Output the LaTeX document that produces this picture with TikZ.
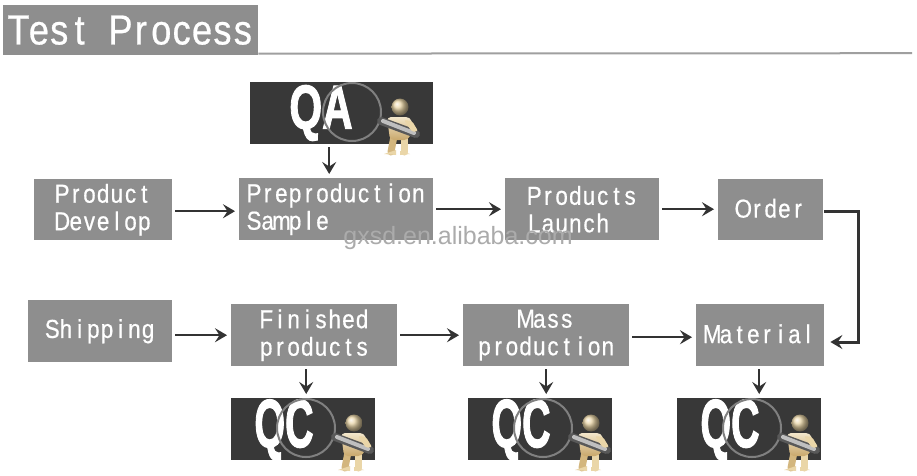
\documentclass[tikz,border=0pt]{standalone}
\usepackage{fontspec}
\setmainfont{Liberation Sans}
\newfontfamily\boxfont[FakeStretch=0.86,FakeBold=0.6]{Liberation Sans}
\newfontfamily\badgefont[FakeBold=2]{Liberation Sans Bold}
\usetikzlibrary{arrows.meta}
\definecolor{boxgray}{HTML}{8E8E8E}
\definecolor{arrowdark}{HTML}{333333}
\definecolor{badgedark}{HTML}{383838}
\definecolor{tan}{HTML}{EAD6A8}
\definecolor{tandark}{HTML}{C9A86C}
\makeatletter
\newcommand\monocell[2][13.7pt]{\@tfor\mc@char:=#2\do{\makebox[#1][c]{\mc@char}}}
\makeatother
\tikzset{
  stepbox/.style={fill=boxgray,text=white,inner sep=0pt,font=\boxfont\fontsize{26}{27.5}\selectfont},
  badgebox/.style={fill=badgedark,inner sep=0pt},
  flow/.style={draw=arrowdark,line width=2.2pt,-{Stealth[length=12pt,width=14pt,inset=4.5pt]},shorten >=4pt,shorten <=3pt},
  qatext/.style={text=white,inner sep=0pt,font=\badgefont\fontsize{62}{62}\selectfont,xscale=.68},
  qctext/.style={text=white,inner sep=0pt,font=\badgefont\fontsize{68}{68}\selectfont,xscale=.58},
  pics/inspector/.style={code={
    \draw[line width=7pt,tandark!70!tan,line cap=round] (42,24) -- (39,40);
    \draw[line width=7pt,tan,line cap=round] (52,24) -- (52,40);
    \fill[tan] (32,42) -- (44,38) -- (44,43) -- cycle;
    \fill[tan] (48,39) -- (58,42) -- (48,43) -- cycle;
    \shade[top color=tan!60!white,bottom color=tandark,rounded corners=4pt] (35,5) -- (58,5) -- (62,16) -- (56,28) -- (38,28) -- cycle;
    \shade[ball color=tan] (48,-5) circle (8.5);
    \draw[line width=2pt,black!50!white] (0,0) circle (29);
    \draw[line width=8pt,black!65,line cap=round] (29,9) -- (64,22);
    \draw[line width=4pt,black!25,line cap=round] (31,9) -- (62,21);
    \fill[tan,rounded corners=2pt] (52,8) -- (60,9) -- (66,19) -- (60,20) -- cycle;
  }}
}
\begin{document}
\begin{tikzpicture}[x=1pt,y=-1pt]
\useasboundingbox (0,0) rectangle (917,475);
\fill[white] (0,0) rectangle (917,475);

% title
\coordinate (ruleend) at (912,53.2);
\node[fill=boxgray,text=white,inner sep=0pt,minimum width=255pt,minimum height=50pt,anchor=north west,
      font=\boxfont\fontsize{42}{42}\selectfont] (title) at (3,5) {\monocell[20.4pt]{Test~Process}};
\draw[boxgray!85!white,line width=2pt] ([yshift=1.8pt]title.south east) -- (ruleend);

% process boxes
\node[stepbox,minimum width=138pt,minimum height=61pt,anchor=north west,align=center] (develop) at (34,179) {\monocell{Product}\\\monocell{Develop}};
\node[stepbox,minimum width=194pt,minimum height=62pt,anchor=north west,align=left] (pre) at (239,178) {\monocell{Preproduction}\\\monocell{Sample}};
\node[stepbox,minimum width=154pt,minimum height=62pt,anchor=north west,align=left] (launch) at (505,178) {\monocell{Products}\\\monocell{Launch}};
\node[stepbox,minimum width=105pt,minimum height=61pt,anchor=north west] (order) at (718,179) {\raisebox{3pt}{\monocell{Order}}};
\node[stepbox,minimum width=144pt,minimum height=62pt,anchor=north west] (ship) at (28,300) {\monocell{Shipping}};
\node[stepbox,minimum width=166pt,minimum height=62pt,anchor=north west,align=center] (finished) at (231,304) {\monocell{Finished}\\\monocell{products}};
\node[stepbox,minimum width=166pt,minimum height=62pt,anchor=north west,align=center] (mass) at (463,304) {\monocell{Mass}\\\monocell{production}};
\node[stepbox,minimum width=128pt,minimum height=62pt,anchor=north west] (material) at (696,304) {\raisebox{3pt}{\monocell{Material}}};

% badges
\node[badgebox,minimum width=183pt,minimum height=62pt,anchor=north west] (qa) at (250,82) {};
\node[badgebox,minimum width=144pt,minimum height=62pt,anchor=north west] (qc1) at (231,398) {};
\node[badgebox,minimum width=144pt,minimum height=62pt,anchor=north west] (qc2) at (468,398) {};
\node[badgebox,minimum width=144pt,minimum height=62pt,anchor=north west] (qc3) at (677,398) {};
\node[qatext] (qat) at (321,113) {QA};
\node[qctext] (qc1t) at (284,430) {QC};
\node[qctext] (qc2t) at (521,430) {QC};
\node[qctext] (qc3t) at (730,430) {QC};
\pic at (352,112) {inspector};
\pic at (306,428) {inspector};
\pic at (543,428) {inspector};
\pic at (752,428) {inspector};

% connectors
\coordinate (bendtop) at (858,211);
\coordinate (bendbot) at (858,342);
\draw[flow] ([yshift=-1.5pt]develop.east) -- ([yshift=-1.5pt]develop.east -| pre.west);
\draw[flow] (pre.east) -- (pre.east -| launch.west);
\draw[flow] (launch.east) -- (launch.east -| order.west);
\draw[flow] ([xshift=-12.5pt]qa.south) -- ([xshift=-7pt]pre.north);
\draw[flow,line width=3pt,shorten <=1pt,shorten >=6pt,line join=miter] (order.east |- bendtop) -- (bendtop) -- (bendbot) -- (material.east |- bendbot);
\draw[flow] ([yshift=-4pt]ship.east) -- ([yshift=-4pt]ship.east -| finished.west);
\draw[flow] (finished.east) -- (finished.east -| mass.west);
\draw[flow] ([yshift=-2pt]mass.east) -- ([yshift=-2pt]mass.east -| material.west);
\draw[flow] ([xshift=-8pt]finished.south) -- ([xshift=3pt]qc1.north);
\draw[flow] (mass.south) -- ([xshift=6pt]qc2.north);
\draw[flow] ([xshift=-1pt]material.south) -- ([xshift=10pt]qc3.north);

% watermark
\node[text=black!33,font=\fontsize{25}{25}\selectfont,inner sep=0pt] (mark) at (458,238) {gxsd.en.alibaba.com};
\end{tikzpicture}
\end{document}
